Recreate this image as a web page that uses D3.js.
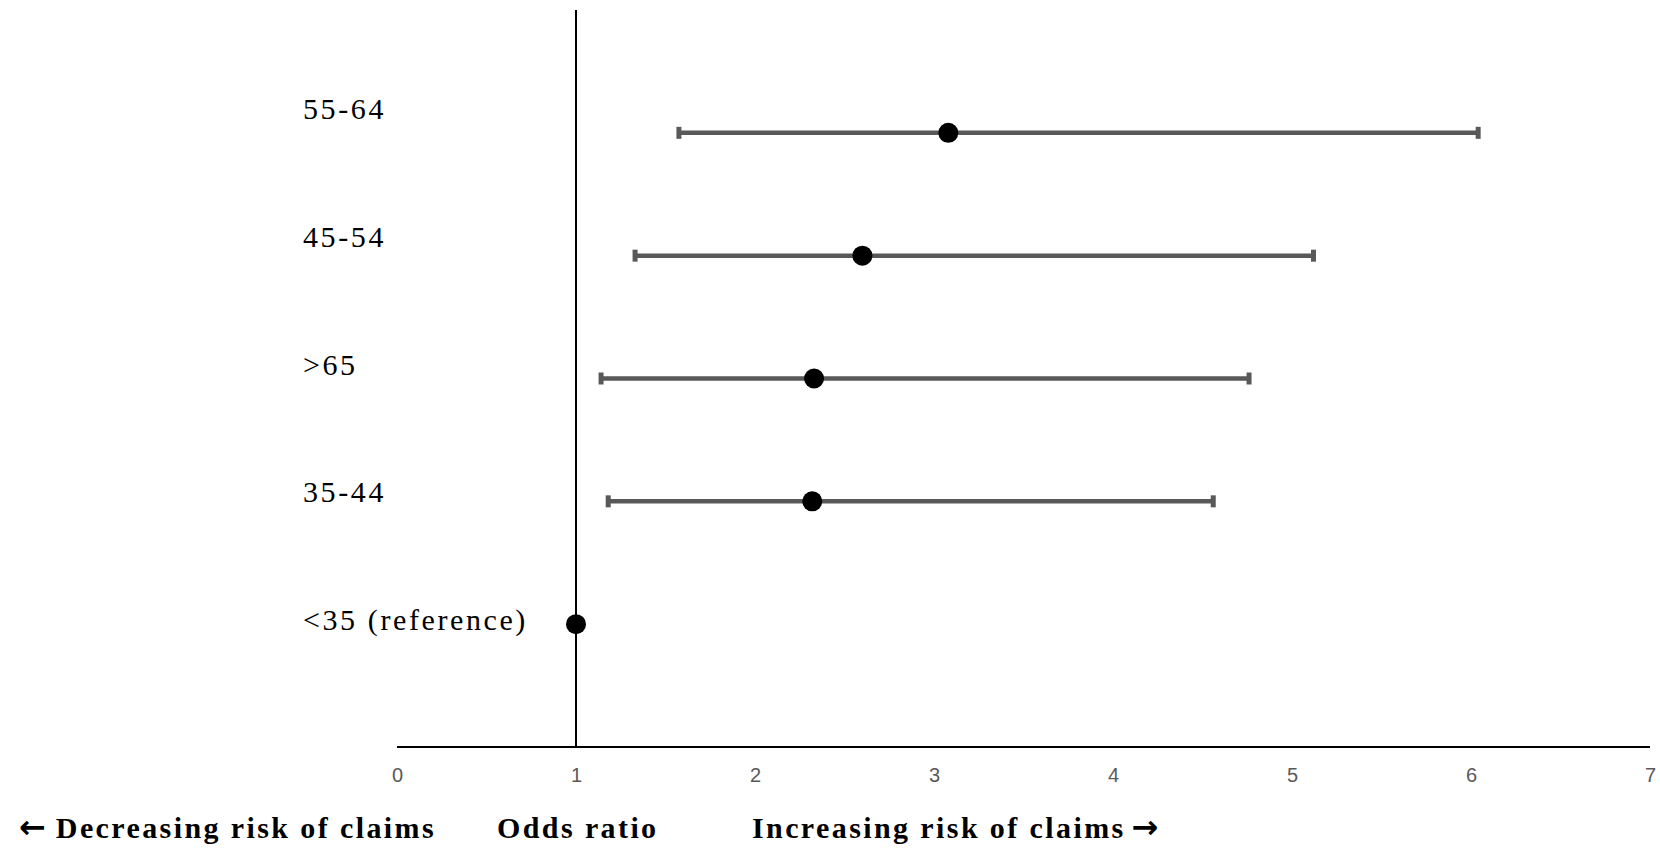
<!DOCTYPE html>
<html>
<head>
<meta charset="utf-8">
<script src="https://cdn.jsdelivr.net/npm/d3@7"></script>
<style>
  html, body { margin: 0; padding: 0; background: #fff; }
  svg { display: block; }
  .x-axis text { font-family: 'Liberation Sans', Arial, sans-serif; font-size: 20px; fill: #595959; }
</style>
</head>
<body>
<svg id="chart" width="1660" height="848"></svg>
<script>
// Age groups, from top row to bottom row
const categories = ["55-64", "45-54", ">65", "35-44", "<35 (reference)"];
// Odds ratios and 95% confidence bounds (null = reference group, no interval)
const oddsRatio = [3.08, 2.6, 2.33, 2.32, 1];
const ciLower   = [1.575, 1.33, 1.14, 1.18, null];
const ciUpper   = [6.04, 5.12, 4.76, 4.56, null];
// X axis ticks
const xTicks = [0, 1, 2, 3, 4, 5, 6, 7];
// Footer captions: [arrow before, text, arrow after]
const footerLabels = [
  ["\u2190", "Decreasing risk of claims", ""],
  ["", "Odds ratio", ""],
  ["", "Increasing risk of claims", "\u2192"]
];

const svg = d3.select("#chart");

const x = d3.scaleLinear().domain([0, 7]).range([397, 1650]);
// Row positions: rows sit at 5..1 on a 0..6 scale
const yRow = d3.scaleLinear().domain([0, 6]).range([747, 10]);
const rowIndex = d3.scaleOrdinal().domain(categories).range([5, 4, 3, 2, 1]);
// Category label baselines
const yLabel = d3.scalePoint().domain(categories).range([119, 630]);

const rows = categories.map((c, i) => ({
  cat: c, or: oddsRatio[i], lo: ciLower[i], hi: ciUpper[i]
}));

// X axis (line + numeric labels, no tick marks)
const xAxis = d3.axisBottom(x).tickValues(xTicks).tickSize(0).tickPadding(21).tickFormat(d3.format("d"));
const gx = svg.append("g").attr("class", "x-axis")
  .attr("transform", `translate(0,${yRow(0)})`).call(xAxis);
gx.attr("font-size", null).attr("font-family", null);
gx.select(".domain").attr("stroke", "#000").attr("stroke-width", 2).attr("d", `M${x(0)},0H${x(7)}`);
gx.selectAll("text").attr("fill", null);

// Vertical reference line at OR = 1
svg.append("line")
  .attr("x1", x(1)).attr("x2", x(1))
  .attr("y1", yRow(6)).attr("y2", yRow(0))
  .attr("stroke", "#000").attr("stroke-width", 2);

// Confidence intervals
const ci = rows.filter(d => d.lo != null);
const gci = svg.append("g").attr("fill", "#595959").attr("stroke", "#595959");
gci.selectAll("line.ci").data(ci).join("line")
  .attr("class", "ci")
  .attr("x1", d => x(d.lo)).attr("x2", d => x(d.hi))
  .attr("y1", d => yRow(rowIndex(d.cat))).attr("y2", d => yRow(rowIndex(d.cat)))
  .attr("stroke-width", 4.5);
gci.selectAll("rect.capL").data(ci).join("rect")
  .attr("class", "capL")
  .attr("x", d => x(d.lo) - 2.5).attr("width", 5)
  .attr("y", d => yRow(rowIndex(d.cat)) - 6).attr("height", 12)
  .attr("stroke", "none");
gci.selectAll("rect.capR").data(ci).join("rect")
  .attr("class", "capR")
  .attr("x", d => x(d.hi) - 2.5).attr("width", 5)
  .attr("y", d => yRow(rowIndex(d.cat)) - 6).attr("height", 12)
  .attr("stroke", "none");

// Point estimates
svg.append("g").selectAll("circle").data(rows).join("circle")
  .attr("cx", d => x(d.or))
  .attr("cy", d => yRow(rowIndex(d.cat)))
  .attr("r", 10)
  .attr("fill", "#000");

// Category labels
svg.append("g").selectAll("text").data(categories).join("text")
  .attr("x", 303)
  .attr("y", d => yLabel(d))
  .attr("font-family", "'Liberation Serif', 'Times New Roman', serif")
  .attr("font-size", 30)
  .attr("letter-spacing", 2.6)
  .attr("fill", "#000")
  .text(d => d);

// Footer captions
const footerX = [19, 497, 752];
const ft = svg.append("g").selectAll("text").data(footerLabels).join("text")
  .attr("x", (d, i) => footerX[i])
  .attr("y", 838)
  .attr("font-family", "'Liberation Serif', 'Times New Roman', serif")
  .attr("font-weight", "bold")
  .attr("font-size", 30)
  .attr("letter-spacing", 2.4)
  .attr("fill", "#000");
ft.each(function(d) {
  const t = d3.select(this);
  if (d[0]) t.append("tspan")
    .attr("font-family", "'DejaVu Sans', sans-serif")
    .attr("font-size", 32).attr("letter-spacing", 0)
    .text(d[0]);
  t.append("tspan").attr("dx", d[0] ? 10 : 0).text(d[1]);
  if (d[2]) t.append("tspan")
    .attr("dx", 6)
    .attr("font-family", "'DejaVu Sans', sans-serif")
    .attr("font-size", 32).attr("letter-spacing", 0)
    .text(d[2]);
});
</script>
</body>
</html>
